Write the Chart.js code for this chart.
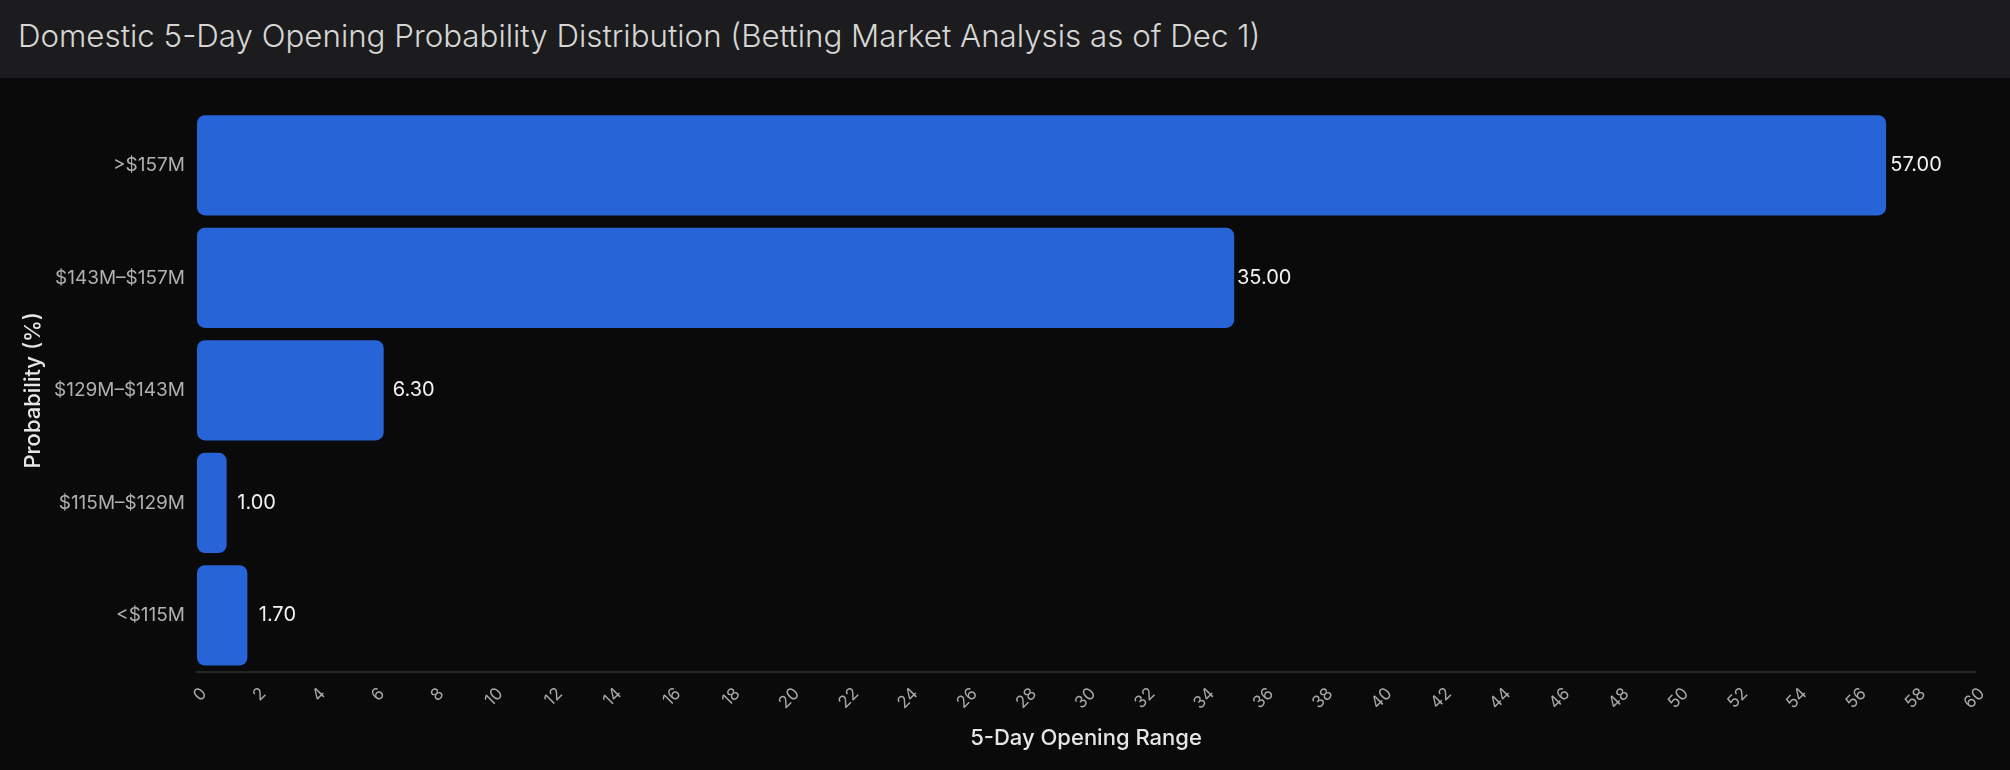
<!DOCTYPE html>
<html>
<head>
<meta charset="utf-8">
<script src="https://cdn.jsdelivr.net/npm/chart.js@4.4.1/dist/chart.umd.min.js"></script>
<style>
  html, body { margin: 0; padding: 0; background: #0a0a0a; }
  body { width: 2010px; height: 770px; overflow: hidden; font-family: Inter, "Liberation Sans", Arial, sans-serif; }
  .header { height: 78px; background: #1c1c1e; color: #d6d6d6; font-size: 31.3px; font-weight: 300; line-height: 72px; padding-left: 18px; box-sizing: border-box; }
  .wrap { position: relative; width: 2010px; height: 692px; }
</style>
</head>
<body>
<div class="header">Domestic 5-Day Opening Probability Distribution (Betting Market Analysis as of Dec 1)</div>
<div class="wrap"><canvas id="chart"></canvas></div>
<script>
// ranges, top to bottom
const ranges = [">$157M", "$143M\u2013$157M", "$129M\u2013$143M", "$115M\u2013$129M", "<$115M"];
const probabilities = [57.0, 35.0, 6.3, 1.0, 1.7];
const xMax = 60;
const xStep = 2;

const fontFamily = "Inter, 'Liberation Sans', Arial, sans-serif";

// draw the value next to each bar end
const valueLabels = {
    id: "valueLabels",
    afterDatasetsDraw(chart) {
        const ctx = chart.ctx;
        const meta = chart.getDatasetMeta(0);
        ctx.save();
        ctx.font = "20px " + fontFamily;
        ctx.fillStyle = "#f2f2f2";
        ctx.textAlign = "center";
        ctx.textBaseline = "middle";
        meta.data.forEach((bar, i) => {
            ctx.fillText(probabilities[i].toFixed(2), bar.x + 30, bar.y);
        });
        ctx.restore();
    }
};

const data = {
    labels: ranges,
    datasets: [{
        label: "Probability",
        data: probabilities,
        backgroundColor: "#2764d8",
        borderRadius: 8,
        borderSkipped: false,
        barPercentage: 0.9,
        categoryPercentage: 0.99
    }]
};

const config = {
    type: "bar",
    data: data,
    options: {
        indexAxis: "y",
        responsive: false,
        animation: false,
        layout: { padding: { top: 31, right: 35, left: 16, bottom: 14 } },
        plugins: {
            legend: { display: false },
            tooltip: { enabled: false }
        },
        scales: {
            x: {
                min: 0,
                max: xMax,
                ticks: {
                    stepSize: xStep,
                    color: "#a8a8a8",
                    font: { size: 17, family: fontFamily },
                    minRotation: 45,
                    maxRotation: 45,
                    padding: 12,
                    labelOffset: 7
                },
                grid: { display: false, drawTicks: false },
                border: { color: "#262626", width: 2 },
                title: {
                    display: true,
                    text: "5-Day Opening Range",
                    color: "#e6e6e6",
                    font: { size: 22, weight: "500", family: fontFamily },
                    padding: { top: 0 }
                }
            },
            y: {
                ticks: {
                    color: "#b0b0b0",
                    font: { size: 19, family: fontFamily },
                    padding: 12
                },
                grid: { display: false, drawTicks: false },
                border: { display: false },
                title: {
                    display: true,
                    text: "Probability (%)",
                    color: "#e6e6e6",
                    font: { size: 22, weight: "500", family: fontFamily }
                },
                afterFit(scale) { scale.width = 181; }
            }
        }
    },
    plugins: [valueLabels]
};

const canvas = document.getElementById("chart");
canvas.width = 2010;
canvas.height = 692;
new Chart(canvas, config);
</script>
</body>
</html>
